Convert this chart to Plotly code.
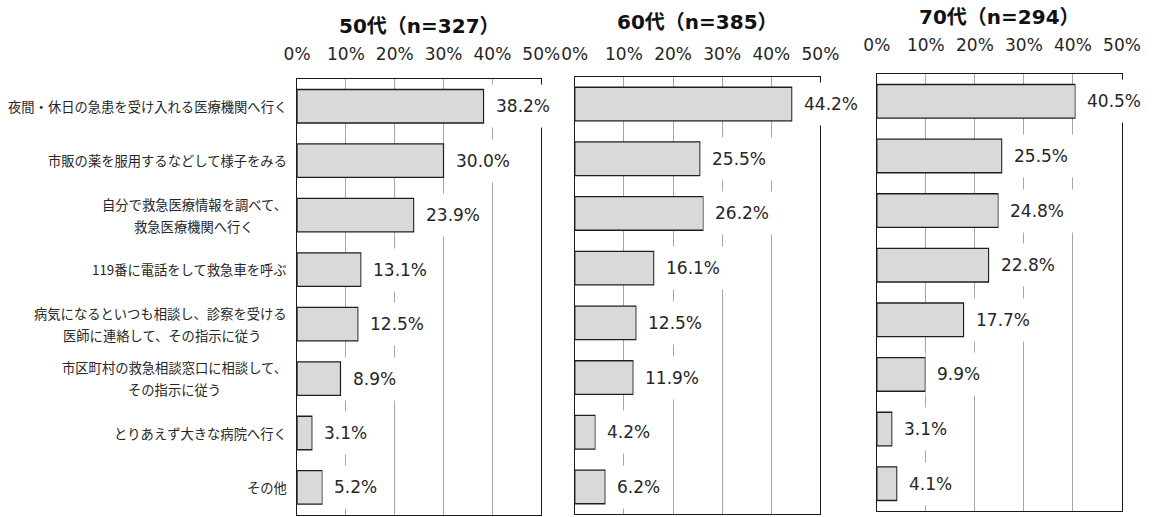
import plotly.graph_objects as go

# ---------------- data ----------------
categories = [
    "夜間・休日の急患を受け入れる医療機関へ行く",
    "市販の薬を服用するなどして様子をみる",
    "自分で救急医療情報を調べて、<br>救急医療機関へ行く",
    "119番に電話をして救急車を呼ぶ",
    "病気になるといつも相談し、診察を受ける<br>医師に連絡して、その指示に従う",
    "市区町村の救急相談窓口に相談して、<br>その指示に従う",
    "とりあえず大きな病院へ行く",
    "その他",
]
panel_titles = ["50代（n=327）", "60代（n=385）", "70代（n=294）"]
values_50s = [38.2, 30.0, 23.9, 13.1, 12.5, 8.9, 3.1, 5.2]
values_60s = [44.2, 25.5, 26.2, 16.1, 12.5, 11.9, 4.2, 6.2]
values_70s = [40.5, 25.5, 24.8, 22.8, 17.7, 9.9, 3.1, 4.1]
tick_values = [0, 10, 20, 30, 40, 50]
tick_labels = ["0%", "10%", "20%", "30%", "40%", "50%"]

series = [values_50s, values_60s, values_70s]

# ---------------- layout (pixels in a 1176 x 517 canvas) ----------------
W, H = 1176, 517
panels_px = [
    # x0, x1, y_top, y_bottom, title_y, tick_standoff
    (292.0, 543.0, 79.0, 514.7, 26.5, 11),
    (577.5, 830.0, 76.7, 514.3, 22.0, 9),
    (888.0, 1140.0, 74.0, 511.0, 17.0, 15),
]

LATIN = "DejaVu Sans, Noto Sans CJK JP, sans-serif"
CJK = "Noto Sans CJK JP, DejaVu Sans, sans-serif"
CJK_SIZE = 13.3

fig = go.Figure()
annotations = []

for i, (vals, (x0, x1, yt, yb, ty, standoff)) in enumerate(zip(series, panels_px)):
    n = "" if i == 0 else str(i + 1)
    fig.add_trace(go.Bar(
        x=vals, y=categories, orientation="h",
        marker=dict(color="#d9d9d9", line=dict(color="#1f1f1f", width=1.3)),
        xaxis="x" + n, yaxis="y" + n, showlegend=False, hoverinfo="skip",
    ))
    fig.layout["xaxis" + n] = dict(
        domain=[x0 / W, x1 / W], range=[0, 50], side="top",
        tickvals=tick_values, ticktext=tick_labels,
        tickfont=dict(family=LATIN, size=17, color="#262626"),
        ticks="", ticklabelstandoff=standoff,
        showgrid=True, gridcolor="#a6a6a6", gridwidth=1,
        showline=True, linecolor="#1a1a1a", linewidth=1.3, mirror=True,
        zeroline=False, anchor="y" + n, fixedrange=True,
    )
    fig.layout["yaxis" + n] = dict(
        domain=[1 - yb / H, 1 - yt / H],
        categoryorder="array", categoryarray=categories,
        autorange="reversed", showticklabels=False, ticks="",
        showgrid=False, showline=True, linecolor="#1a1a1a", linewidth=1.3,
        mirror=True, zeroline=False, anchor="x" + n, fixedrange=True,
    )
    # panel title
    annotations.append(dict(
        text="<b>" + panel_titles[i] + "</b>", xref="paper", yref="paper",
        x=(x0 + x1) / 2 / W, y=1 - ty / H, xanchor="center", yanchor="middle",
        showarrow=False, font=dict(family=LATIN, size=20, color="#111111"),
    ))
    # value labels
    for cat, v in zip(categories, vals):
        annotations.append(dict(
            text=f"{v:.1f}%", xref="x" + n, yref="y" + n, x=v, y=cat,
            xanchor="left", yanchor="middle", showarrow=False,
            bgcolor="#ffffff", borderpad=11,
            font=dict(family=LATIN, size=17, color="#262626"),
        ))

# category labels (left of first panel), lines centered, block right-aligned
for cat in categories:
    lines = cat.split("<br>")
    nl = len(lines)
    width_chars = max(len(l) for l in lines)
    for k, line in enumerate(lines):
        shift = (nl - 1) / 2 * 22 - k * 22
        annotations.append(dict(
            text=line, xref="paper", yref="y", x=284 / W, y=cat,
            xanchor="right", yanchor="middle", showarrow=False,
            xshift=-(width_chars - len(line)) * CJK_SIZE / 2,
            yshift=shift, font=dict(family=CJK, size=CJK_SIZE, color="#262626"),
        ))

fig.update_layout(
    width=W, height=H, margin=dict(l=0, r=0, t=0, b=0),
    paper_bgcolor="#ffffff", plot_bgcolor="#ffffff",
    bargap=0.385, annotations=annotations,
)

fig.write_html("out.html", config={"displayModeBar": False},
               post_script="document.body.style.margin='0';")
